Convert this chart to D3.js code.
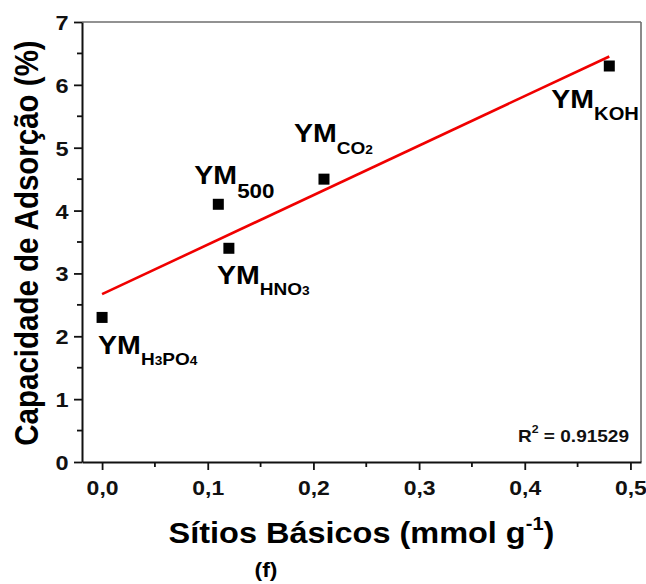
<!DOCTYPE html>
<html>
<head>
<meta charset="utf-8">
<script src="https://cdn.jsdelivr.net/npm/d3@7"></script>
<style>
  html, body { margin: 0; padding: 0; background: #fff; }
  svg { display: block; font-family: "Liberation Sans", Arial, sans-serif; font-weight: bold; }
</style>
</head>
<body>
<svg id="chart" width="646" height="584"></svg>
<script>
// Basic sites vs. adsorption capacity for the YM samples
const samples    = ["H3PO4", "500", "HNO3", "CO2", "KOH"];
const basicSites = [0.00, 0.11, 0.12, 0.21, 0.48];   // mmol g-1
const adsorption = [2.30, 4.10, 3.40, 4.50, 6.30];   // %
const xTicks = [0, 0.1, 0.2, 0.3, 0.4, 0.5];
const yTicks = [0, 1, 2, 3, 4, 5, 6, 7];
const r2Text = "0.91529";

// subscript pieces: [text, isSmallDigit]
const subParts = {
  "H3PO4": [["H", false], ["3", true], ["PO", false], ["4", true]],
  "500":   [["500", false]],
  "HNO3":  [["HNO", false], ["3", true]],
  "CO2":   [["CO", false], ["2", true]],
  "KOH":   [["KOH", false]]
};
// label placement relative to each marker (px)
const labelOffset = {
  "H3PO4": [-4, 37], "500": [-24, -20], "HNO3": [-12, 36], "CO2": [-30, -37], "KOH": [-58, 42]
};
const subSize = { "H3PO4": 17, "500": 20, "HNO3": 17, "CO2": 17, "KOH": 18 };
const subDrop = { "H3PO4": 11, "500": 14, "HNO3": 11, "CO2": 12, "KOH": 12 };

const SX = 1.12; // horizontal glyph stretch

const svg = d3.select("#chart");
const m = { left: 82, right: 5, top: 22, bottom: 122 };
const W = 646, H = 584;

const x = d3.scaleLinear().domain([-0.019, 0.51]).range([m.left, W - m.right]);
const y = d3.scaleLinear().domain([0, 7]).range([H - m.bottom, m.top]);

const fmt = d => d3.format(".1f")(d).replace(".", ",");

// frame: top/right in grey
svg.append("line").attr("x1", x.range()[0]).attr("x2", x.range()[1])
  .attr("y1", y(7)).attr("y2", y(7)).attr("stroke", "#6e6e6e").attr("stroke-width", 1.6);
svg.append("line").attr("x1", x.range()[1]).attr("x2", x.range()[1])
  .attr("y1", y(7)).attr("y2", y(0)).attr("stroke", "#6e6e6e").attr("stroke-width", 1.6);

// minor ticks
const xMinor = d3.range(0.05, 0.5, 0.1);
const yMinor = d3.range(0.5, 7, 1);
svg.append("g").selectAll("line").data(xMinor).join("line")
  .attr("x1", d => x(d)).attr("x2", d => x(d))
  .attr("y1", y(0)).attr("y2", y(0) + 5).attr("stroke", "#111").attr("stroke-width", 1.8);
svg.append("g").selectAll("line").data(yMinor).join("line")
  .attr("y1", d => y(d)).attr("y2", d => y(d))
  .attr("x1", x.range()[0]).attr("x2", x.range()[0] - 5).attr("stroke", "#111").attr("stroke-width", 1.8);

// bottom axis
const gx = svg.append("g").attr("transform", `translate(0,${y(0)})`)
  .call(d3.axisBottom(x).tickValues(xTicks).tickFormat(fmt).tickSize(8).tickSizeOuter(0));
gx.select(".domain").attr("stroke", "#111").attr("stroke-width", 2);
gx.selectAll(".tick line").attr("stroke", "#111").attr("stroke-width", 1.8);
gx.selectAll(".tick text").attr("y", null).attr("dy", null)
  .attr("transform", `translate(0,32.5) scale(${SX},1)`)
  .attr("font-size", 20.5).attr("font-weight", "bold").attr("fill", "#111")
  .attr("font-family", "Liberation Sans, Arial, sans-serif");

// left axis
const gy = svg.append("g").attr("transform", `translate(${x.range()[0]},0)`)
  .call(d3.axisLeft(y).tickValues(yTicks).tickFormat(d3.format("d")).tickSize(8).tickSizeOuter(0));
gy.select(".domain").attr("stroke", "#111").attr("stroke-width", 2);
gy.selectAll(".tick line").attr("stroke", "#111").attr("stroke-width", 1.8);
gy.selectAll(".tick text").attr("x", null).attr("dy", "0.36em")
  .attr("transform", `translate(-13.5,0) scale(${SX},1)`)
  .attr("font-size", 21).attr("font-weight", "bold").attr("fill", "#111")
  .attr("font-family", "Liberation Sans, Arial, sans-serif");

// least-squares fit
const mx = d3.mean(basicSites), my = d3.mean(adsorption);
const sxy = d3.sum(basicSites, (v, i) => (v - mx) * (adsorption[i] - my));
const sxx = d3.sum(basicSites, v => (v - mx) ** 2);
const slope = sxy / sxx, icpt = my - slope * mx;
const xFit = [d3.min(basicSites), d3.max(basicSites)];
svg.append("path")
  .datum(xFit)
  .attr("d", d3.line().x(d => x(d)).y(d => y(icpt + slope * d)))
  .attr("stroke", "#f00000").attr("stroke-width", 2.6).attr("fill", "none");

// markers
const S = 11;
svg.append("g").selectAll("rect").data(samples).join("rect")
  .attr("x", (d, i) => x(basicSites[i]) - S / 2)
  .attr("y", (d, i) => y(adsorption[i]) - S / 2)
  .attr("width", S).attr("height", S).attr("fill", "#000");

// sample labels
samples.forEach((s, i) => {
  const [dx, dy] = labelOffset[s];
  const g = svg.append("g")
    .attr("transform", `translate(${x(basicSites[i]) + dx},${y(adsorption[i]) + dy}) scale(${SX},1)`);
  const t = g.append("text").attr("fill", "#000").attr("font-size", 25.5);
  t.append("tspan").text("YM");
  const fs = subSize[s];
  subParts[s].forEach((p, k) => {
    const ts = t.append("tspan").text(p[0]).attr("font-size", p[1] ? fs * 0.72 : fs);
    if (k === 0) ts.attr("dy", subDrop[s]);
  });
});

// R² annotation
const r2 = svg.append("g").attr("transform", `translate(518,442) scale(${SX},1)`)
  .append("text").attr("font-size", 17).attr("fill", "#111");
r2.append("tspan").text("R");
r2.append("tspan").text("2").attr("font-size", 11).attr("dy", -9);
r2.append("tspan").text(" = " + r2Text).attr("dy", 9);

// axis titles
const xt = svg.append("g").attr("transform", `translate(${(x.range()[0] + x.range()[1]) / 2},543) scale(${SX},1)`)
  .append("text").attr("text-anchor", "middle").attr("font-size", 29).attr("fill", "#000");
xt.append("tspan").text("Sítios Básicos (mmol g");
xt.append("tspan").text("-1").attr("font-size", 18).attr("dy", -13);
xt.append("tspan").text(")").attr("dy", 13);

svg.append("g").attr("transform", `translate(38,${(y(0) + y(7)) / 2 + 1}) rotate(-90) scale(1,${SX})`)
  .append("text").attr("text-anchor", "middle").attr("font-size", 29.5).attr("fill", "#000")
  .text("Capacidade de Adsorção (%)");

svg.append("g").attr("transform", `translate(266,577) scale(${SX},1)`)
  .append("text").attr("text-anchor", "middle").attr("font-size", 20.5).attr("fill", "#000")
  .text("(f)");
</script>
</body>
</html>
